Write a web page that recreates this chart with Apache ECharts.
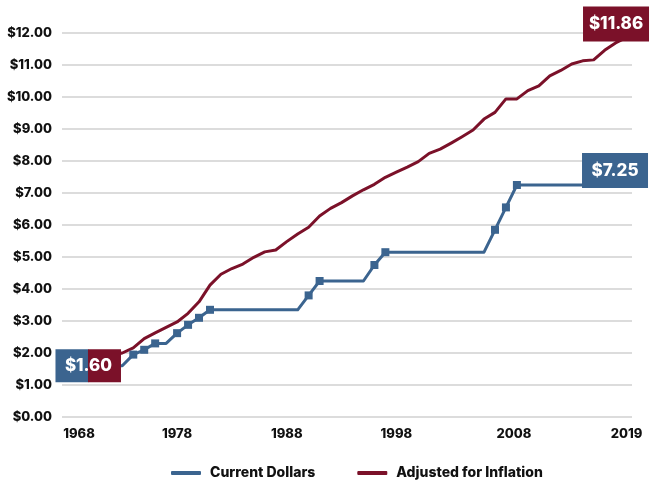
<!DOCTYPE html>
<html>
<head>
<meta charset="utf-8">
<script src="https://cdn.jsdelivr.net/npm/echarts@6/dist/echarts.min.js"></script>
<style>
  html, body { margin: 0; padding: 0; background: #ffffff; }
  #chart { width: 650px; height: 482px; }
</style>
</head>
<body>
<div id="chart"></div>
<script>
// Federal minimum wage, 1968-2019
const years = [];
for (let y = 1968; y <= 2019; y++) years.push(String(y));

const currentDollars = [
  1.60, 1.60, 1.60, 1.60, 1.60, 1.60, 1.95, 2.10, 2.30, 2.30,
  2.62, 2.88, 3.10, 3.35, 3.35, 3.35, 3.35, 3.35, 3.35, 3.35,
  3.35, 3.35, 3.80, 4.25, 4.25, 4.25, 4.25, 4.25, 4.75, 5.15,
  5.15, 5.15, 5.15, 5.15, 5.15, 5.15, 5.15, 5.15, 5.15, 5.85,
  6.55, 7.25, 7.25, 7.25, 7.25, 7.25, 7.25, 7.25, 7.25, 7.25,
  7.25, 7.25
];

// 1968 minimum wage carried forward with inflation
const adjustedForInflation = [
  1.60, 1.69, 1.78, 1.86, 1.93, 2.00, 2.16, 2.45, 2.63, 2.80,
  2.97, 3.24, 3.60, 4.12, 4.46, 4.64, 4.78, 4.99, 5.16, 5.22,
  5.48, 5.72, 5.93, 6.28, 6.52, 6.70, 6.91, 7.10, 7.27, 7.49,
  7.65, 7.81, 7.98, 8.24, 8.37, 8.56, 8.76, 8.97, 9.31, 9.52,
  9.94, 9.94, 10.20, 10.35, 10.66, 10.83, 11.03, 11.13, 11.16, 11.46,
  11.69, 11.86
];

const xTickYears = ['1968', '1978', '1988', '1998', '2008', '2019'];
const seriesNames = ['Current Dollars', 'Adjusted for Inflation'];

const BLUE = '#3b648f';
const RED = '#7b1129';
const FONT = 'Inter, "Open Sans", sans-serif';
const WEIGHT = 800;

const fmt = v => '$' + v.toFixed(2);
const lastIdx = years.length - 1;

// square markers only where the wage changed
const blueData = currentDollars.map((v, i) => ({
  value: v,
  symbol: (i > 0 && v !== currentDollars[i - 1]) ? 'rect' : 'none'
}));

const boxLabel = {
  show: true,
  color: '#ffffff',
  fontFamily: FONT,
  fontWeight: WEIGHT,
  fontSize: 17
};

const tickText = { fontFamily: FONT, fontWeight: WEIGHT, fontSize: 13, color: '#111' };

const chart = echarts.init(document.getElementById('chart'), null, { renderer: 'canvas' });

chart.setOption({
  animation: false,
  backgroundColor: '#ffffff',
  grid: { left: 62, right: 18, top: 33, bottom: 65, containLabel: false },
  legend: {
    left: 171,
    top: 464,
    padding: 0,
    itemGap: 42,
    itemWidth: 30,
    itemHeight: 4,
    icon: 'roundRect',
    textStyle: { fontFamily: FONT, fontWeight: WEIGHT, fontSize: 14, lineHeight: 18, color: '#111', padding: [0, 0, 0, 4] },
    data: seriesNames
  },
  xAxis: {
    type: 'category',
    data: years,
    boundaryGap: true,
    axisLine: { show: false },
    axisTick: { show: false },
    axisLabel: Object.assign({}, tickText, {
      margin: 11,
      interval: (i, v) => xTickYears.indexOf(v) >= 0,
      formatter: v => v === xTickYears[0] ? '{a|' + v + '}' : (v === xTickYears[4] ? '{b|' + v + '}' : v),
      rich: {
        a: Object.assign({}, tickText, { padding: [0, 0, 0, 23] }),
        b: Object.assign({}, tickText, { padding: [0, 0, 0, 16] })
      }
    }),
    splitLine: { show: false }
  },
  yAxis: {
    type: 'value',
    min: 0,
    max: 12,
    interval: 1,
    axisLine: { show: false },
    axisTick: { show: false },
    axisLabel: Object.assign({}, tickText, { margin: 10, formatter: fmt }),
    splitLine: { lineStyle: { color: '#dcdcdc', width: 2 } }
  },
  series: [
    {
      name: seriesNames[0],
      type: 'line',
      data: blueData,
      symbolSize: 8,
      showAllSymbol: true,
      color: BLUE,
      itemStyle: { color: BLUE },
      lineStyle: { color: BLUE, width: 3, join: 'round' },
      z: 2,
      markPoint: {
        z: 5,
        silent: true,
        data: [
          {
            coord: [0, currentDollars[0]],
            symbol: 'rect',
            symbolSize: [33, 33],
            symbolOffset: [4.5, 0],
            itemStyle: { color: BLUE },
            label: { show: false }
          },
          {
            coord: [lastIdx, currentDollars[lastIdx]],
            symbol: 'rect',
            symbolSize: [66, 35],
            symbolOffset: [-11.5, -14.5],
            itemStyle: { color: BLUE },
            label: Object.assign({}, boxLabel, { position: 'inside', formatter: fmt(currentDollars[lastIdx]) })
          }
        ]
      }
    },
    {
      name: seriesNames[1],
      type: 'line',
      data: adjustedForInflation,
      symbol: 'none',
      color: RED,
      itemStyle: { color: RED },
      lineStyle: { color: RED, width: 3, join: 'round' },
      z: 2,
      markPoint: {
        z: 6,
        silent: true,
        data: [
          {
            coord: [0, adjustedForInflation[0]],
            symbol: 'rect',
            symbolSize: [33, 33],
            symbolOffset: [37, 0],
            itemStyle: { color: RED },
            label: Object.assign({}, boxLabel, { position: 'inside', offset: [-16, 0], formatter: fmt(adjustedForInflation[0]) })
          },
          {
            coord: [lastIdx, adjustedForInflation[lastIdx]],
            symbol: 'rect',
            symbolSize: [66, 35],
            symbolOffset: [-10.5, -13.5],
            itemStyle: { color: RED },
            label: Object.assign({}, boxLabel, { position: 'inside', formatter: fmt(adjustedForInflation[lastIdx]) })
          }
        ]
      }
    }
  ]
});
</script>
</body>
</html>
